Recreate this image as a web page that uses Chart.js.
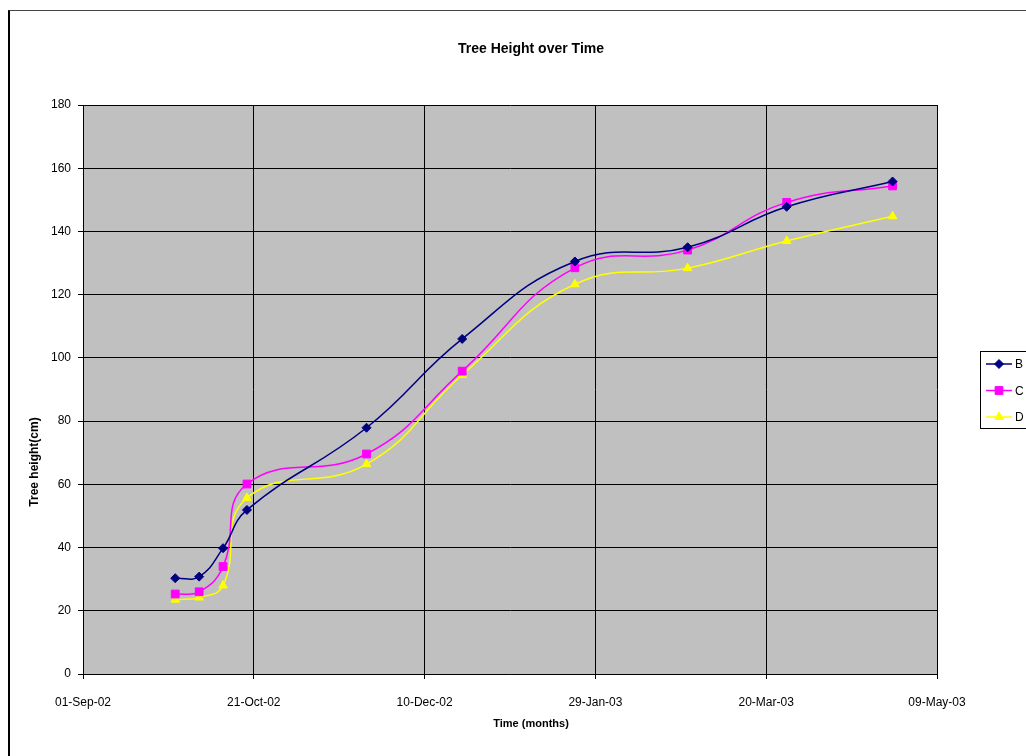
<!DOCTYPE html>
<html>
<head>
<meta charset="utf-8">
<title>Tree Height over Time</title>
<script src="https://cdn.jsdelivr.net/npm/chart.js@4/dist/chart.umd.min.js"></script>
<style>
  html, body { margin: 0; padding: 0; background: #fff; overflow: hidden; }
  #wrap { position: relative; width: 1026px; height: 756px; overflow: hidden; }
  #frame { position: absolute; left: 8px; top: 10px; width: 1100px; height: 800px;
           border-left: 2px solid #000; border-top: 1px solid #444; box-sizing: border-box; }
  #c { position: absolute; left: 0; top: 0; }
</style>
</head>
<body>
<div id="wrap">
  <div id="frame"></div>
  <canvas id="c" width="1026" height="756"></canvas>
</div>
<script>
// Measurement dates
const dates = ['2002-09-28', '2002-10-05', '2002-10-12', '2002-10-19', '2002-11-23',
               '2002-12-21', '2003-01-23', '2003-02-25', '2003-03-26', '2003-04-26'];

// Tree heights (cm) for each plot
const seriesB = [30.3, 30.8, 39.8, 51.9, 77.9, 106.0, 130.5, 135.0, 147.8, 155.8];
const seriesC = [25.3, 26.0, 34.0, 60.1, 69.6, 95.8, 128.5, 134.1, 149.2, 154.4];
const seriesD = [23.5, 24.2, 28.0, 55.7, 66.4, 94.6, 123.3, 128.4, 137.0, 144.8];

const seriesNames = ['B', 'C', 'D'];

// Date axis labels (every 50 days from the axis start)
const xTickLabels = ['01-Sep-02', '21-Oct-02', '10-Dec-02', '29-Jan-03', '20-Mar-03', '09-May-03'];
const axisStart = '2002-09-01';
const axisEnd = '2003-05-09';

const chartTitle = 'Tree Height over Time';
const xTitle = 'Time (months)';
const yTitle = 'Tree height(cm)';

const FONT = '"Liberation Sans", Arial, sans-serif';
const DAY = 86400000;
function dayIndex(iso) {
  const [y, m, d] = iso.split('-').map(Number);
  const [y0, m0, d0] = axisStart.split('-').map(Number);
  return Math.round((Date.UTC(y, m - 1, d) - Date.UTC(y0, m0 - 1, d0)) / DAY);
}
const xs = dates.map(dayIndex);
const toPoints = vals => vals.map((v, i) => ({ x: xs[i], y: v }));

const styles = [
  { color: '#000080', pointStyle: 'rectRot', radius: 4.5 },
  { color: '#FF00FF', pointStyle: 'rect', radius: 5.5 },
  { color: '#FFFF00', pointStyle: 'triangle', radius: 5 }
];
const seriesValues = [seriesB, seriesC, seriesD];

const datasets = seriesValues.map((vals, k) => ({
  label: seriesNames[k],
  data: toPoints(vals),
  borderColor: styles[k].color,
  backgroundColor: styles[k].color,
  pointBackgroundColor: styles[k].color,
  pointBorderColor: styles[k].color,
  pointStyle: styles[k].pointStyle,
  pointRadius: styles[k].radius,
  pointBorderWidth: 1,
  borderWidth: 1.5,
  tension: 0.45,
  fill: false
}));

// Grey plot background
const plotBackground = {
  id: 'plotBackground',
  beforeDraw(chart) {
    const { ctx, chartArea: a } = chart;
    ctx.save();
    ctx.fillStyle = '#C0C0C0';
    ctx.fillRect(a.left, a.top, a.right - a.left, a.bottom - a.top);
    ctx.restore();
  }
};

// Chart heading and axis titles
const headings = {
  id: 'headings',
  afterDraw(chart) {
    const ctx = chart.ctx;
    ctx.save();
    ctx.fillStyle = '#000';
    ctx.textAlign = 'center';
    ctx.textBaseline = 'middle';
    ctx.font = 'bold 14px ' + FONT;
    ctx.fillText(chartTitle, 531, 49);
    ctx.font = 'bold 11px ' + FONT;
    ctx.fillText(xTitle, 531, 724);
    ctx.translate(35, 462);
    ctx.rotate(-Math.PI / 2);
    ctx.font = 'bold 12px ' + FONT;
    ctx.fillText(yTitle, 0, 0);
    ctx.restore();
  }
};

function marker(ctx, style, x, y) {
  if (Chart.helpers && Chart.helpers.drawPoint) {
    Chart.helpers.drawPoint(ctx, { pointStyle: style.pointStyle, radius: style.radius, rotation: 0, borderWidth: 1 }, x, y);
    return;
  }
  const r = style.radius;
  ctx.beginPath();
  if (style.pointStyle === 'rectRot') {
    ctx.moveTo(x, y - r); ctx.lineTo(x + r, y); ctx.lineTo(x, y + r); ctx.lineTo(x - r, y);
  } else if (style.pointStyle === 'rect') {
    const s = r * Math.SQRT1_2; ctx.rect(x - s, y - s, 2 * s, 2 * s);
  } else {
    ctx.moveTo(x, y - r); ctx.lineTo(x + r * 0.866, y + r / 2); ctx.lineTo(x - r * 0.866, y + r / 2);
  }
  ctx.closePath(); ctx.fill(); ctx.stroke();
}

// Boxed legend to the right of the plot
const boxedLegend = {
  id: 'boxedLegend',
  afterDraw(chart) {
    const ctx = chart.ctx;
    const bx = 980.5, by = 351.5, bw = 70, bh = 77;
    ctx.save();
    ctx.fillStyle = '#fff';
    ctx.fillRect(bx, by, bw, bh);
    ctx.strokeStyle = '#000';
    ctx.lineWidth = 1;
    ctx.strokeRect(bx, by, bw, bh);
    chart.data.datasets.forEach((ds, k) => {
      const y = 364 + k * 26.5;
      ctx.strokeStyle = ds.borderColor;
      ctx.lineWidth = 1.5;
      ctx.beginPath();
      ctx.moveTo(986, y); ctx.lineTo(1012, y);
      ctx.stroke();
      ctx.fillStyle = ds.borderColor;
      ctx.strokeStyle = ds.borderColor;
      ctx.lineWidth = 1;
      marker(ctx, styles[k], 999, y);
      ctx.fillStyle = '#000';
      ctx.font = '12px ' + FONT;
      ctx.textAlign = 'left';
      ctx.textBaseline = 'middle';
      ctx.fillText(ds.label, 1015, y + 1);
    });
    ctx.restore();
  }
};

new Chart(document.getElementById('c'), {
  type: 'line',
  data: { datasets },
  options: {
    responsive: false,
    animation: false,
    devicePixelRatio: 1,
    layout: { padding: { left: 20, top: 105, right: 89, bottom: 20 } },
    plugins: {
      legend: { display: false },
      title: { display: false },
      tooltip: { enabled: false }
    },
    scales: {
      x: {
        type: 'linear',
        min: 0,
        max: dayIndex(axisEnd),
        afterFit(scale) { scale.height = 62; },
        afterBuildTicks(scale) {
          scale.ticks = xTickLabels.map((_, i) => ({ value: i * 50 }));
        },
        ticks: {
          autoSkip: false,
          maxRotation: 0,
          padding: 16,
          color: '#000',
          font: { family: FONT, size: 12 },
          callback: (v, i) => xTickLabels[i]
        },
        grid: { color: '#000', lineWidth: 1, tickLength: 5, drawTicks: true },
        border: { color: '#000', width: 1 }
      },
      y: {
        min: 0,
        max: 180,
        afterFit(scale) { scale.width = 63; },
        ticks: {
          stepSize: 20,
          padding: 7,
          color: '#000',
          font: { family: FONT, size: 12 }
        },
        grid: { color: '#000', lineWidth: 1, tickLength: 5, drawTicks: true },
        border: { color: '#000', width: 1 }
      }
    }
  },
  plugins: [plotBackground, headings, boxedLegend]
});
</script>
</body>
</html>
